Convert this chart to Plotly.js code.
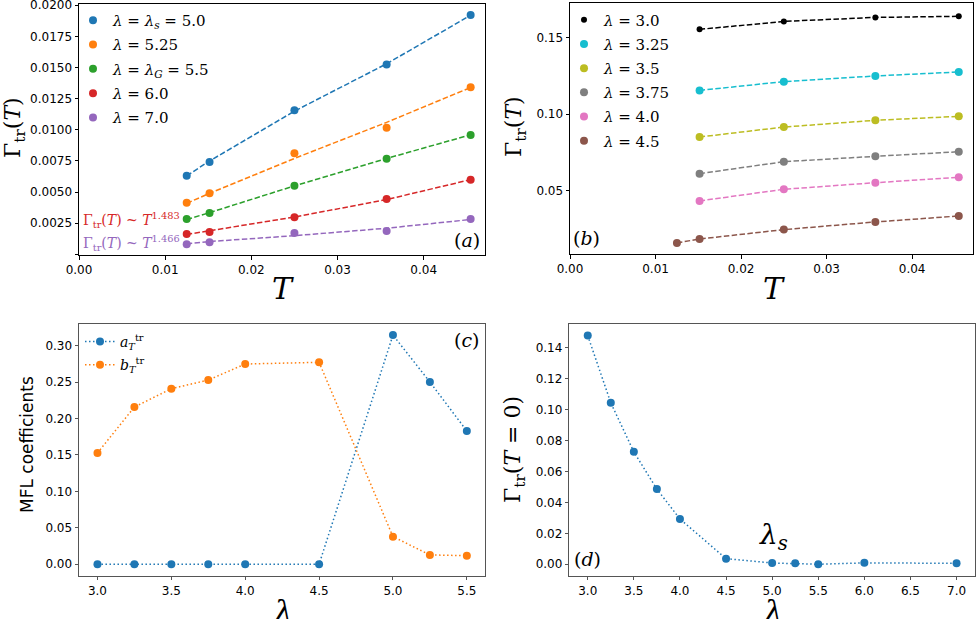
<!DOCTYPE html>
<html><head><meta charset="utf-8">
<script src="https://cdn.plot.ly/plotly-3.0.1.min.js"></script>
<style>html,body{margin:0;padding:0;background:#fff}</style>
</head><body>
<div id="chart" style="width:976px;height:619px"></div>
<script>
// ---- Panel (a) data ----
const T_a = [0.0125, 0.01515, 0.025, 0.0357, 0.04545];
const gA_50 = [0.00631, 0.00741, 0.01158, 0.01524, 0.01921];
const gA_525 = [0.00415, 0.00490, 0.00811, 0.01016, 0.01342];
const gA_55 = [0.00284, 0.00333, 0.00551, 0.00768, 0.00958];
const gA_60 = [0.00164, 0.00180, 0.00298, 0.00445, 0.00600];
const gA_70 = [0.00082, 0.00098, 0.00172, 0.00188, 0.00284];
const fitA_50 = [0.00630, 0.00750, 0.01150, 0.01530, 0.01920];
const fitA_525 = [0.00410, 0.00490, 0.00770, 0.01060, 0.01340];
const fitA_55 = [0.00280, 0.00335, 0.00550, 0.00770, 0.00960];
const fitA_60 = [0.00160, 0.00190, 0.00300, 0.00440, 0.00600];
const fitA_70 = [0.00085, 0.00103, 0.00150, 0.00210, 0.00280];
const labelsA = ['<i>λ</i> = <i>λ</i><sub><i>s</i></sub> = 5.0', '<i>λ</i> = 5.25', '<i>λ</i> = <i>λ</i><sub><i>G</i></sub> = 5.5', '<i>λ</i> = 6.0', '<i>λ</i> = 7.0'];
const yTickValsA = [0, 0.0025, 0.005, 0.0075, 0.01, 0.0125, 0.015, 0.0175, 0.02];
const yTickTextA = ['', '0.0025', '0.0050', '0.0075', '0.0100', '0.0125', '0.0150', '0.0175', '0.0200'];

// ---- Panel (b) data ----
const T_b = [0.01515, 0.025, 0.0357, 0.04545];
const T_b45 = [0.0125, 0.01515, 0.025, 0.0357, 0.04545];
const gB_30 = [0.1552, 0.1604, 0.1630, 0.1637];
const gB_325 = [0.1154, 0.1211, 0.1248, 0.1274];
const gB_35 = [0.0850, 0.0915, 0.0959, 0.0985];
const gB_375 = [0.0611, 0.0689, 0.0724, 0.0754];
const gB_40 = [0.0433, 0.0509, 0.0552, 0.0587];
const gB_45 = [0.0159, 0.0185, 0.0246, 0.0296, 0.0335];
const labelsB = ['<i>λ</i> = 3.0', '<i>λ</i> = 3.25', '<i>λ</i> = 3.5', '<i>λ</i> = 3.75', '<i>λ</i> = 4.0', '<i>λ</i> = 4.5'];

// ---- Panel (c) data ----
const lamC = [3.0, 3.25, 3.5, 3.75, 4.0, 4.5, 5.0, 5.25, 5.5];
const aT = [0, 0, 0, 0, 0, 0, 0.3145, 0.2501, 0.1829];
const bT = [0.1527, 0.2158, 0.2409, 0.2528, 0.2748, 0.2771, 0.0379, 0.0128, 0.0118];

// ---- Panel (d) data ----
const lamD = [3.0, 3.25, 3.5, 3.75, 4.0, 4.5, 5.0, 5.25, 5.5, 6.0, 7.0];
const gamma0 = [0.1479, 0.1044, 0.0727, 0.0486, 0.0293, 0.0036, 0.0008, 0.0006, 0.0000, 0.0009, 0.0006];

const C = {blue:'#1f77b4', orange:'#ff7f0e', green:'#2ca02c', red:'#d62728', purple:'#9467bd',
  brown:'#8c564b', pink:'#e377c2', gray:'#7f7f7f', olive:'#bcbd22', cyan:'#17becf', black:'#000000'};
const DASH = '5.5px,2.4px', DOT = '1.5px,2.5px';

const traces = [];
const aSets = [[gA_50, fitA_50, C.blue], [gA_525, fitA_525, C.orange], [gA_55, fitA_55, C.green], [gA_60, fitA_60, C.red], [gA_70, fitA_70, C.purple]];
aSets.forEach((s, i) => {
  traces.push({x: T_a, y: s[1], mode: 'lines', line: {color: s[2], width: 1.5, dash: DASH}, showlegend: false, xaxis: 'x', yaxis: 'y', hoverinfo: 'skip'});
});
aSets.forEach((s, i) => {
  traces.push({x: T_a, y: s[0], mode: 'markers', marker: {color: s[2], size: 8}, name: labelsA[i], legend: 'legend', legendgroup: 'a' + i, xaxis: 'x', yaxis: 'y'});
});
const bSets = [[T_b, gB_30, C.black, 6], [T_b, gB_325, C.cyan, 8], [T_b, gB_35, C.olive, 8], [T_b, gB_375, C.gray, 8], [T_b, gB_40, C.pink, 8], [T_b45, gB_45, C.brown, 8]];
bSets.forEach((s, i) => {
  traces.push({x: s[0], y: s[1], mode: 'lines', line: {color: s[2], width: 1.5, dash: DASH}, showlegend: false, xaxis: 'x2', yaxis: 'y2', hoverinfo: 'skip'});
});
bSets.forEach((s, i) => {
  traces.push({x: s[0], y: s[1], mode: 'markers', marker: {color: s[2], size: s[3]}, name: labelsB[i], legend: 'legend2', legendgroup: 'b' + i, xaxis: 'x2', yaxis: 'y2'});
});
traces.push({x: lamC, y: aT, mode: 'lines+markers', line: {color: C.blue, width: 1.5, dash: DOT}, marker: {color: C.blue, size: 8}, name: '<i>a</i><sub><i>T</i></sub><sup>tr</sup>', legend: 'legend3', legendgroup: 'c0', xaxis: 'x3', yaxis: 'y3'});
traces.push({x: lamC, y: bT, mode: 'lines+markers', line: {color: C.orange, width: 1.5, dash: DOT}, marker: {color: C.orange, size: 8}, name: '<i>b</i><sub><i>T</i></sub><sup>tr</sup>', legend: 'legend3', legendgroup: 'c1', xaxis: 'x3', yaxis: 'y3'});
traces.push({x: lamD, y: gamma0, mode: 'lines+markers', line: {color: C.blue, width: 1.5, dash: DOT}, marker: {color: C.blue, size: 8}, showlegend: false, xaxis: 'x4', yaxis: 'y4'});

const tickFont = {family: 'DejaVu Sans', size: 12, color: '#000'};
function ax(domain, range, dtick, fmt, anchor, lc) {
  return {domain: domain, range: range, dtick: dtick, tick0: 0, tickformat: fmt, anchor: anchor,
    showgrid: false, zeroline: false, showline: true, mirror: true, linecolor: lc, linewidth: 1,
    ticks: 'outside', ticklen: 3.5, tickwidth: 1, tickcolor: lc, tickfont: tickFont, fixedrange: true,
    ticklabeloverflow: 'allow'};
}
const serif = 'DejaVu Serif';
function ann(text, x, y, size, color, angle) {
  return {text: text, x: x, y: y, xref: 'paper', yref: 'paper', showarrow: false, xanchor: 'center', yanchor: 'middle',
    font: {family: serif, size: size, color: color || '#000'}, textangle: angle || 0};
}
const H = 619, W = 976;
const px = v => v / W, py = v => (H - v) / H;

const yA = ax([1 - 255 / H, 1 - 4 / H], [-0.00005, 0.0201], 0.0025, '.4f', 'x', '#000');
yA.tickmode = 'array'; yA.tickvals = yTickValsA; yA.ticktext = yTickTextA;

const legFont = {family: serif, size: 15, color: '#000'};
const layout = {
  width: W, height: H, margin: {l: 0, r: 0, t: 0, b: 0}, paper_bgcolor: '#fff', plot_bgcolor: '#fff',
  xaxis: ax([px(79), px(485.3)], [0, 0.04715], 0.01, '.2f', 'y', '#000'),
  yaxis: yA,
  xaxis2: ax([px(570), px(973.3)], [0, 0.04715], 0.01, '.2f', 'y2', '#000'),
  yaxis2: ax([1 - 254.3 / H, 1 - 3.3 / H], [0.0085, 0.1722], 0.05, '.2f', 'x2', '#000'),
  xaxis3: ax([px(79), px(485.3)], [2.875, 5.625], 0.5, '.1f', 'y3', '#555'),
  yaxis3: ax([1 - 575.7 / H, 1 - 324 / H], [-0.0157, 0.3297], 0.05, '.2f', 'x3', '#555'),
  xaxis4: ax([px(569.3), px(975)], [2.8, 7.2], 0.5, '.1f', 'y4', '#555'),
  yaxis4: ax([1 - 575.7 / H, 1 - 324 / H], [-0.0074, 0.1554], 0.02, '.2f', 'x4', '#555'),
  legend: {x: px(73), y: py(4), xanchor: 'left', yanchor: 'top', bgcolor: 'rgba(0,0,0,0)', borderwidth: 0,
    font: legFont, tracegroupgap: 1.8},
  legend2: {x: px(564), y: py(3.5), xanchor: 'left', yanchor: 'top', bgcolor: 'rgba(0,0,0,0)', borderwidth: 0,
    font: legFont, tracegroupgap: 1.7},
  legend3: {x: px(80), y: py(326), xanchor: 'left', yanchor: 'top', bgcolor: 'rgba(0,0,0,0)', borderwidth: 0,
    font: {family: serif, size: 14, color: '#000'}, tracegroupgap: 2},
  annotations: [
    ann('Γ<sub>tr</sub>(<i>T</i>)', px(15), py(128), 22, '#000', -90),
    ann('Γ<sub>tr</sub>(<i>T</i>)', px(515), py(127), 22, '#000', -90),
    {text: 'MFL coefficients', x: px(27), y: py(445), xref: 'paper', yref: 'paper', showarrow: false, xanchor: 'center', yanchor: 'middle',
      font: {family: 'DejaVu Sans', size: 17, color: '#000'}, textangle: -90},
    ann('Γ<sub>tr</sub>(<i>T</i> = 0)', px(514), py(450), 22, '#000', -90),
    ann('<i>T</i>', px(283), py(288), 30),
    ann('<i>T</i>', px(774), py(288), 30),
    ann('<i>λ</i>', px(283), py(611), 30),
    ann('<i>λ</i>', px(773), py(611), 30),
    ann('(<i>a</i>)', px(467), py(240), 19),
    ann('(<i>b</i>)', px(586), py(238), 19),
    ann('(<i>c</i>)', px(467), py(340), 19),
    ann('(<i>d</i>)', px(587), py(559), 19),
    ann('Γ<sub>tr</sub>(<i>T</i>) ~ <i>T</i><sup>1.483</sup>', px(131), py(220), 14, C.red),
    ann('Γ<sub>tr</sub>(<i>T</i>) ~ <i>T</i><sup>1.466</sup>', px(131), py(243), 14, C.purple),
    ann('<i>λ</i><sub><i>s</i></sub>', px(773), py(536), 28)
  ]
};
Plotly.newPlot('chart', traces, layout, {displayModeBar: false, staticPlot: true});
</script>
</body></html>
